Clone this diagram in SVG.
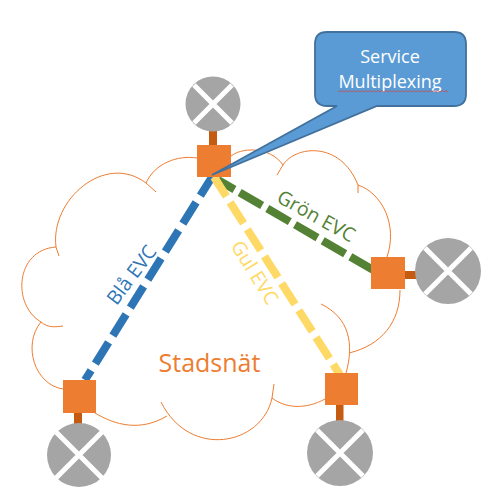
<svg xmlns="http://www.w3.org/2000/svg" width="498" height="502" viewBox="0 0 498 502">
<style>
text{font-family:"Open Sans","Noto Sans","Liberation Sans",sans-serif}
.cloud{fill:none;stroke:#ED7D31;stroke-width:1}
.sq{fill:#ED7D31}
.stem{fill:#C55A11}
.disc{fill:#A5A5A5}
.x{stroke:#fff;stroke-width:5;fill:none}
.evc{fill:none;stroke-width:8}
.lbl{font-size:19.500px;text-anchor:middle}
</style>
<rect width="498" height="502" fill="#fff"/>
<g id="cloud">
<path class="cloud" d="M146 183C155 163 178 155 197 158M230 157C240 147 270 146 283 165L277 175M283 165C295 146 340 140 358 185L358 193M358 185C382 193 398 225 387 257M349 353C382 345 400 322 400 290M346 373C354 345 350 318 321 304M325 399C305 410 285 408 272 398L274 384M272 398C262 445 190 460 161 402M167 416C140 432 115 425 95 413M63 389C35 385 22 345 41 322C48 328 55 327 63 326M41 322C12 305 15 250 56 247L59 256M56 247C50 200 105 152 146 183L156 192"/>
</g>
<g id="connectors">
<path class="evc" stroke="#2E75B6" stroke-dasharray="25 8" stroke-dashoffset="3" d="M212 177L85 380"/>
<path class="evc" stroke="#548235" stroke-dasharray="26 6" stroke-dashoffset="7" d="M218 180L375 271"/>
<path class="evc" stroke="#FFD966" stroke-dasharray="25 7" stroke-dashoffset="2" d="M214 177L340 375"/>
</g>
<g id="node-top">
<rect class="stem" x="209" y="131" width="8" height="14"/>
<circle class="disc" cx="213" cy="104" r="27.500"/>
<path class="x" d="M194 85L232 123M232 85L194 123"/>
<rect class="sq" x="197" y="145" width="34" height="32"/>
</g>
<g id="node-left">
<rect class="stem" x="74" y="413" width="8" height="12"/>
<circle class="disc" cx="79" cy="455" r="32"/>
<path class="x" d="M56 432L102 478M102 432L56 478"/>
<rect class="sq" x="63" y="380" width="33" height="33"/>
</g>
<g id="node-right">
<rect class="stem" x="405" y="271" width="12" height="8"/>
<circle class="disc" cx="448" cy="271" r="33"/>
<path class="x" d="M425 248L471 294M471 248L425 294"/>
<rect class="sq" x="371" y="257" width="34" height="32"/>
</g>
<g id="node-bottom">
<rect class="stem" x="336" y="405" width="7.500" height="18"/>
<circle class="disc" cx="340" cy="453" r="33"/>
<path class="x" d="M317 430L363 476M363 430L317 476"/>
<rect class="sq" x="325" y="373" width="33" height="32"/>
</g>
<g id="callout">
<path d="M327 32H454Q466 32 466 44V94Q466 106 454 106H377L212 175L337 106H327Q315 106 315 94V44Q315 32 327 32Z" fill="#5B9BD5" stroke="#41719C" stroke-width="1.800"/>
<text x="390" y="62.500" font-size="18" fill="#fff" text-anchor="middle">Service</text>
<text x="390" y="87.500" font-size="18" fill="#fff" text-anchor="middle">Multiplexing</text>
<path d="M338 90.500l2 1.500 2-1.500 2 1.500 2-1.500 2 1.500 2-1.500 2 1.500 2-1.500 2 1.500 2-1.500 2 1.500 2-1.500 2 1.500 2-1.500 2 1.500 2-1.500 2 1.500 2-1.500 2 1.500 2-1.500 2 1.500 2-1.500 2 1.500 2-1.500 2 1.500 2-1.500 2 1.500 2-1.500 2 1.500 2-1.500 2 1.500 2-1.500 2 1.500 2-1.500 2 1.500 2-1.500 2 1.500 2-1.500 2 1.500 2-1.500 2 1.500 2-1.500 2 1.500 2-1.500 2 1.500 2-1.500 2 1.500 2-1.500 2 1.500 2-1.500 2 1.500 2-1.500 2 1.500 2-1.500 2 1.500" fill="none" stroke="#C0504D" stroke-width="0.800"/>
</g>
<g id="labels">
<text class="lbl" fill="#2E75B6" transform="translate(137 279) rotate(-53)">Blå EVC</text>
<text class="lbl" fill="#548235" transform="translate(313 222) rotate(29)">Grön EVC</text>
<text class="lbl" fill="#FFD966" transform="translate(249 276) rotate(58)">Gul EVC</text>
<text x="209.500" y="372" font-size="25" fill="#ED7D31" text-anchor="middle">Stadsnät</text>
</g>
</svg>
